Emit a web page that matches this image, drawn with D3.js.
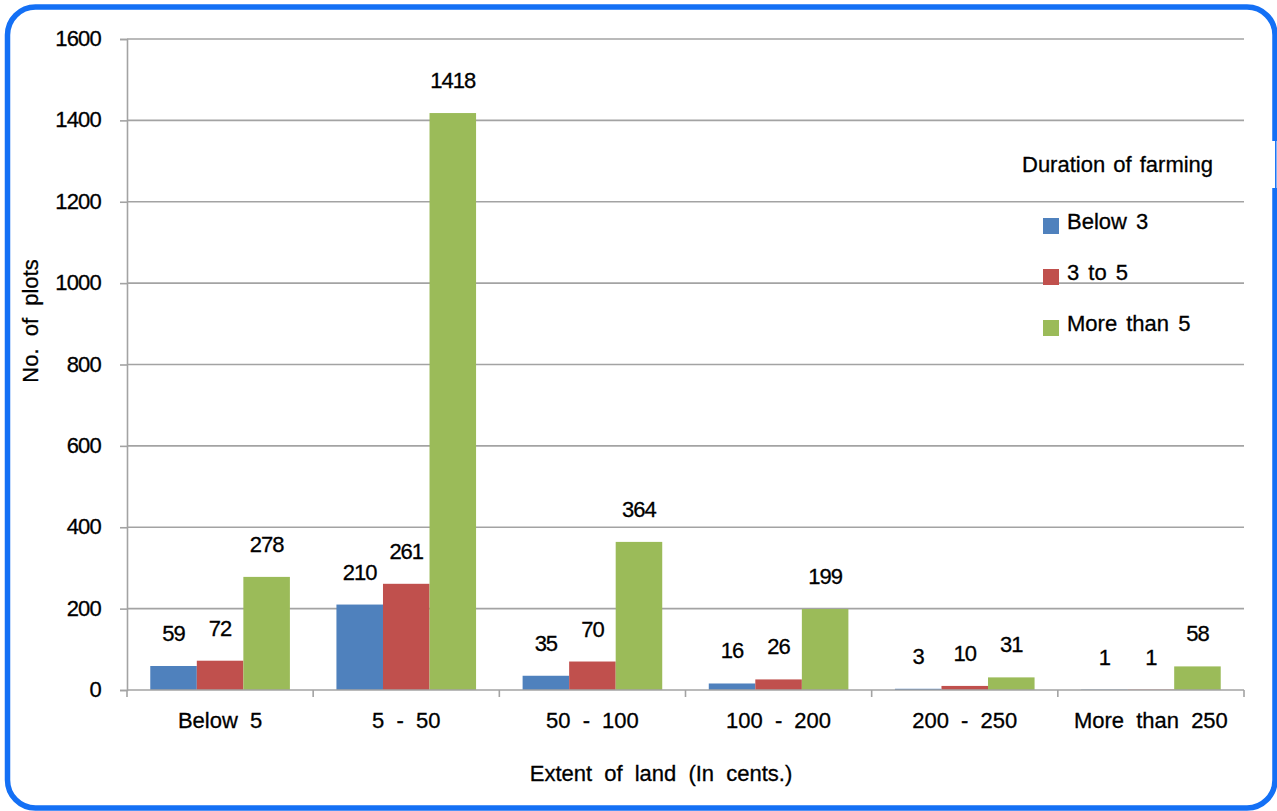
<!DOCTYPE html>
<html>
<head>
<meta charset="utf-8">
<script src="https://cdn.jsdelivr.net/npm/d3@7/dist/d3.min.js"></script>
<style>
  html, body { margin: 0; padding: 0; background: #fff; }
  svg { display: block; font-family: "Liberation Sans", Arial, Helvetica, sans-serif; }
  svg text { stroke: #000; stroke-width: 0.3px; fill: #000; }
</style>
</head>
<body>
<svg id="chart" width="1277" height="811"></svg>
<script>
// Land extent classes (cents) on the x axis
const categories = ["Below 5", "5 - 50", "50 - 100", "100 - 200", "200 - 250", "More than 250"];
// Farming duration groups
const seriesNames = ["Below 3", "3 to 5", "More than 5"];
const seriesColors = ["#4F81BD", "#C0504D", "#9BBB59"];
// Number of plots per land class, one array per duration group
const below3 = [59, 210, 35, 16, 3, 1];
const from3to5 = [72, 261, 70, 26, 10, 1];
const moreThan5 = [278, 1418, 364, 199, 31, 58];
const yTicks = [0, 200, 400, 600, 800, 1000, 1200, 1400, 1600];

const seriesValues = [below3, from3to5, moreThan5];

const svg = d3.select("#chart");
const plot = { left: 127, right: 1244, top: 39, bottom: 690 };
const gridColor = "#a3a3a3";

// Outer rounded frame
svg.append("rect")
  .attr("x", 7.5).attr("y", 7).attr("width", 1267.5).attr("height", 801)
  .attr("rx", 28).attr("ry", 28)
  .attr("fill", "#fff").attr("stroke", "#1470f5").attr("stroke-width", 5.5);
// break in the right-hand edge of the frame
svg.append("rect").attr("x", 1271).attr("y", 141).attr("width", 6).attr("height", 47).attr("fill", "#fff");
svg.append("line").attr("x1", 1275.8).attr("x2", 1275.8).attr("y1", 141).attr("y2", 188)
  .attr("stroke", "#1470f5").attr("stroke-width", 1.5);

const x0 = d3.scaleBand().domain(categories).range([plot.left, plot.right]).paddingInner(0).paddingOuter(0);
const x1 = d3.scaleBand().domain(seriesNames).range([0, x0.bandwidth()]).paddingInner(0).paddingOuter(0.5);
const y = d3.scaleLinear().domain([0, 1600]).range([plot.bottom, plot.top]);

// Horizontal gridlines
svg.append("g").selectAll("line").data(yTicks.filter(t => t > 0)).join("line")
  .attr("x1", plot.left).attr("x2", plot.right)
  .attr("y1", d => y(d)).attr("y2", d => y(d))
  .attr("stroke", gridColor).attr("stroke-width", 1.6);

// Y axis
const yAxis = svg.append("g").attr("transform", `translate(${plot.left},0)`)
  .call(d3.axisLeft(y).tickValues(yTicks).tickSize(7).tickPadding(0).tickFormat(d3.format("d")));
yAxis.select(".domain").attr("stroke", gridColor).attr("stroke-width", 1.6);
yAxis.selectAll(".tick line").attr("stroke", gridColor).attr("stroke-width", 1.6);
yAxis.selectAll(".tick text")
  .attr("x", -26).attr("dy", "0.3em")
  .attr("font-size", 22)
  .attr("font-family", "'Liberation Sans', Arial, sans-serif")
  .style("letter-spacing", "-0.8px");

// Bars with value labels
const groups = svg.append("g").selectAll("g").data(categories).join("g")
  .attr("transform", d => `translate(${x0(d)},0)`);

groups.each(function (cat, ci) {
  const g = d3.select(this);
  seriesNames.forEach((s, si) => {
    const v = seriesValues[si][ci];
    g.append("rect")
      .attr("x", x1(s)).attr("width", x1.bandwidth())
      .attr("y", y(v)).attr("height", y(0) - y(v))
      .attr("fill", seriesColors[si]);
    g.append("text")
      .attr("x", x1(s) + x1.bandwidth() / 2)
      .attr("y", y(v) - 25)
      .attr("text-anchor", "middle")
      .attr("font-size", 22)
      .style("letter-spacing", "-1px")
      .text(v);
  });
});

// X axis
const xAxisG = svg.append("g").attr("transform", `translate(0,${plot.bottom})`);
xAxisG.append("line").attr("x1", plot.left).attr("x2", plot.right).attr("y1", 0).attr("y2", 0)
  .attr("stroke", gridColor).attr("stroke-width", 1.6);
const boundaries = categories.map(c => x0(c)).concat([plot.right]);
xAxisG.selectAll("line.tick").data(boundaries).join("line").attr("class", "tick")
  .attr("x1", d => d).attr("x2", d => d).attr("y1", 0).attr("y2", 7)
  .attr("stroke", gridColor).attr("stroke-width", 1.6);
xAxisG.selectAll("text").data(categories).join("text")
  .attr("x", d => x0(d) + x0.bandwidth() / 2).attr("y", 38)
  .attr("text-anchor", "middle").attr("font-size", 22)
  .style("word-spacing", "6px")
  .text(d => d);

// Axis titles
svg.append("text").attr("x", 661).attr("y", 781).attr("text-anchor", "middle")
  .attr("font-size", 22).style("word-spacing", "6px").text("Extent of land (In cents.)");
svg.append("text").attr("transform", "translate(38,321) rotate(-90)").attr("text-anchor", "middle")
  .attr("font-size", 22).style("word-spacing", "6px").text("No. of plots");

// Legend
const legend = svg.append("g");
legend.append("text").attr("x", 1022).attr("y", 172).attr("font-size", 22)
  .style("word-spacing", "2px").text("Duration of farming");
const items = legend.selectAll("g.item").data(seriesNames).join("g").attr("class", "item")
  .attr("transform", (d, i) => `translate(1043,${218 + i * 51})`);
items.append("rect").attr("width", 16).attr("height", 16).attr("fill", (d, i) => seriesColors[i])
  .style("stroke", "none");
items.append("text").attr("x", 24).attr("y", 11).attr("font-size", 22)
  .style("word-spacing", "3px").text(d => d);
</script>
</body>
</html>
